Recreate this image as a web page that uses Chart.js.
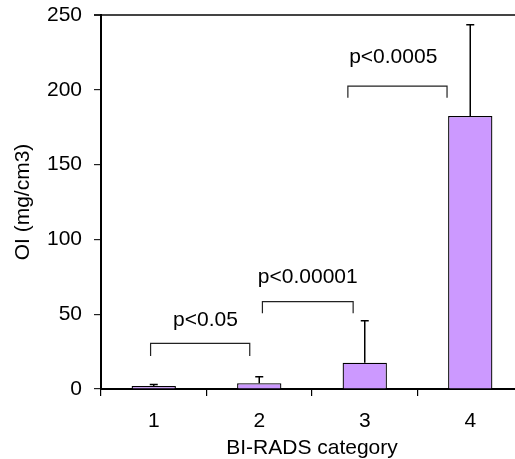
<!DOCTYPE html>
<html>
<head>
<meta charset="utf-8">
<script src="https://cdn.jsdelivr.net/npm/chart.js@4.4.1/dist/chart.umd.min.js"></script>
<style>
    html, body { margin: 0; padding: 0; overflow: hidden; background: #fff; }
    #wrap { width: 525px; height: 459px; }
</style>
</head>
<body>
<div id="wrap"><canvas id="chart"></canvas></div>
<script>
const categories = ['1', '2', '3', '4'];
const means = [2, 3.8, 17.6, 182.5];
const errUp = [1, 4.4, 28, 61];
const yTicks = [0, 50, 100, 150, 200, 250];

// p-value brackets: x in category index units, y in data units
const pLabels = ['p<0.05', 'p<0.00001', 'p<0.0005'];
const bracketFrom = [-0.03, 1.03, 1.84];
const bracketTo = [0.91, 1.89, 2.78];
const bracketTop = [30.5, 58.4, 202.5];
const bracketLeg = [22.1, 50.6, 194.7];
const labelX = [0.49, 1.46, 2.27];
const labelY = [42.3, 71, 217.7];

const font = 'Arial, "Liberation Sans", sans-serif';

const overlay = {
    id: 'overlay',
    afterDatasetsDraw(chart) {
        const ctx = chart.ctx;
        const x = chart.scales.x;
        const y = chart.scales.y;
        const meta = chart.getDatasetMeta(0);
        ctx.save();
        ctx.strokeStyle = '#000';
        ctx.lineWidth = 1.5;
        meta.data.forEach((bar, i) => {
            const top = y.getPixelForValue(means[i] + errUp[i]);
            ctx.beginPath();
            ctx.moveTo(bar.x, bar.y);
            ctx.lineTo(bar.x, top);
            ctx.moveTo(bar.x - 4, top);
            ctx.lineTo(bar.x + 4, top);
            ctx.stroke();
        });

        ctx.strokeStyle = '#222';
        ctx.lineWidth = 1.2;
        pLabels.forEach((txt, i) => {
            const x0 = x.getPixelForValue(bracketFrom[i]);
            const x1 = x.getPixelForValue(bracketTo[i]);
            const yt = y.getPixelForValue(bracketTop[i]);
            const yb = y.getPixelForValue(bracketLeg[i]);
            ctx.beginPath();
            ctx.moveTo(x0, yb);
            ctx.lineTo(x0, yt);
            ctx.lineTo(x1, yt);
            ctx.lineTo(x1, yb);
            ctx.stroke();

            ctx.fillStyle = '#000';
            ctx.font = '21px ' + font;
            ctx.textAlign = 'center';
            ctx.textBaseline = 'alphabetic';
            ctx.fillText(txt, x.getPixelForValue(labelX[i]), y.getPixelForValue(labelY[i]));
        });
        ctx.restore();
    }
};

const chart = new Chart(document.getElementById('chart'), {
    type: 'bar',
    data: {
        labels: categories,
        datasets: [{
            data: means,
            backgroundColor: '#CC99FF',
            borderColor: '#000',
            borderWidth: 1.3,
            categoryPercentage: 1,
            barPercentage: 0.42
        }]
    },
    options: {
        responsive: true,
        maintainAspectRatio: false,
        animation: false,
        layout: { padding: { top: 15, left: 0, right: 2, bottom: 0 } },
        plugins: {
            legend: { display: false },
            tooltip: { enabled: false }
        },
        scales: {
            x: {
                offset: true,
                afterFit: (s) => { s.height = 70; s.paddingLeft = 0; s.paddingRight = 0; },
                grid: {
                    offset: true,
                    drawOnChartArea: false,
                    tickLength: 7,
                    tickColor: '#000',
                    lineWidth: 1.2
                },
                border: { display: true, color: '#000', width: 2 },
                ticks: {
                    color: '#000',
                    padding: 13,
                    font: { family: font, size: 21 }
                },
                title: {
                    display: true,
                    text: 'BI-RADS category',
                    color: '#000',
                    padding: { top: 0, bottom: -2 },
                    font: { family: font, size: 21 }
                }
            },
            y: {
                min: 0,
                max: 250,
                afterFit: (s) => { s.width = 101; s.paddingTop = 0; s.paddingBottom = 0; },
                afterBuildTicks: (s) => { s.ticks = yTicks.map(v => ({ value: v })); },
                grid: {
                    drawOnChartArea: true,
                    color: (c) => c.tick && c.tick.value === 250 ? '#444' : 'transparent',
                    tickColor: '#222',
                    tickLength: 7,
                    lineWidth: (c) => c.tick && c.tick.value === 250 ? 2 : 1.2
                },
                border: { display: true, color: '#000', width: 2 },
                ticks: {
                    color: '#000',
                    padding: 12,
                    font: { family: font, size: 21 }
                },
                title: {
                    display: true,
                    text: 'OI (mg/cm3)',
                    color: '#000',
                    padding: { top: 11, bottom: 0 },
                    font: { family: font, size: 21 }
                }
            }
        }
    },
    plugins: [overlay]
});
</script>
</body>
</html>
